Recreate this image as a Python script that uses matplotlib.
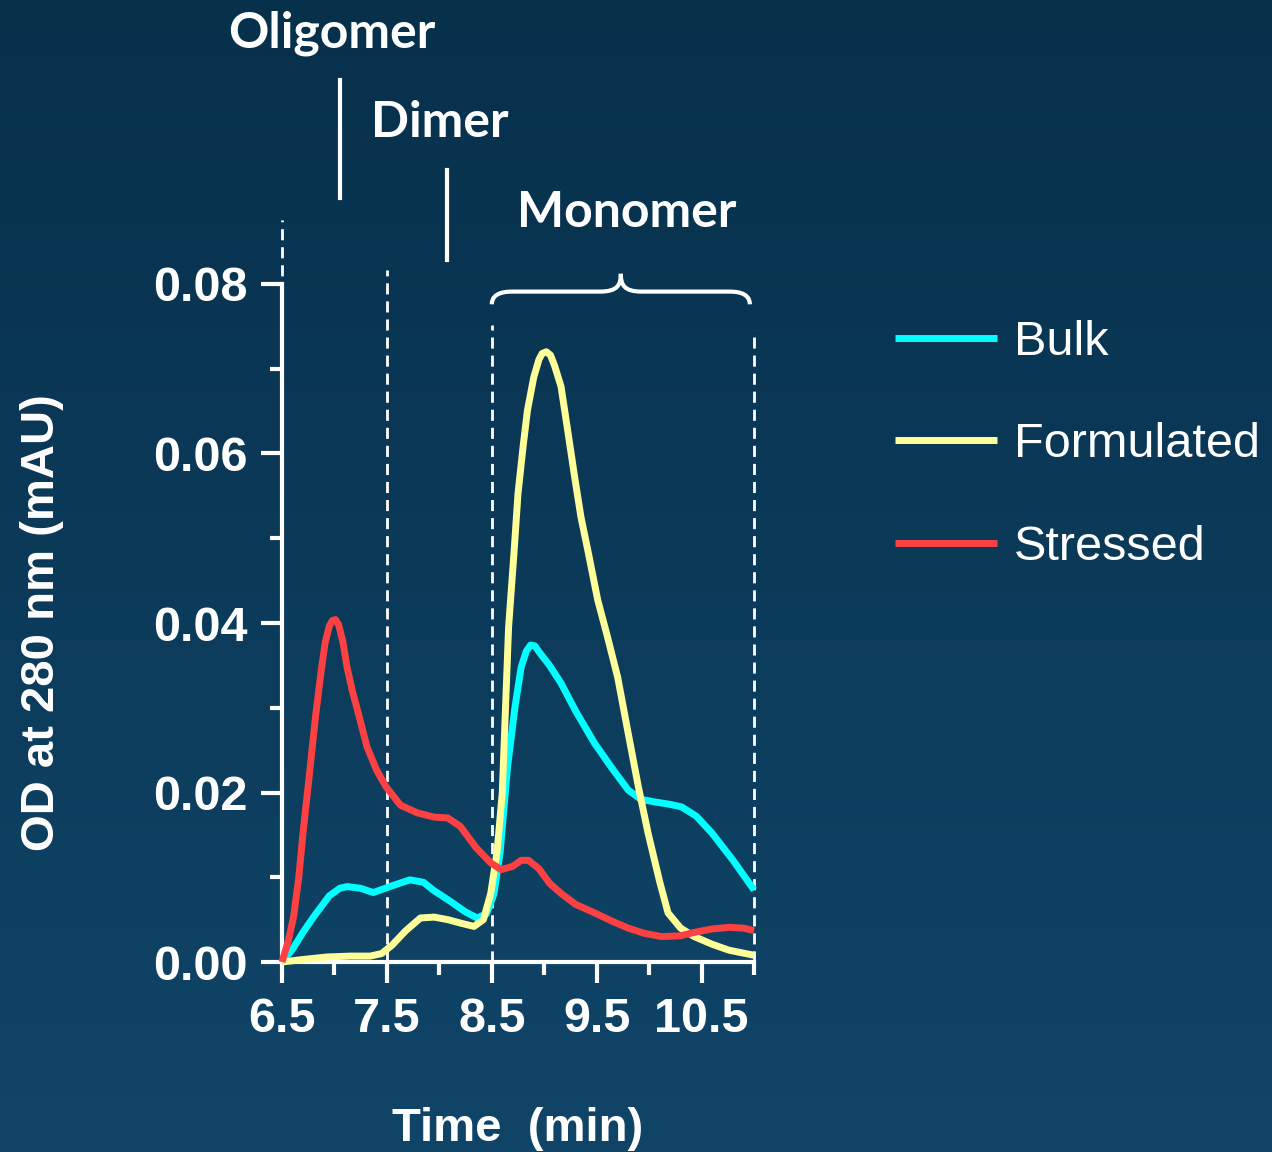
import numpy as np
import matplotlib
matplotlib.use("Agg")
import matplotlib.pyplot as plt
from matplotlib.path import Path
from matplotlib.patches import PathPatch

# retention time (min) / OD readings for each sample
bulk_t = [6.5, 6.6, 6.7, 6.8, 6.95, 7.05, 7.12, 7.25, 7.37, 7.55, 7.72, 7.85,
          7.94, 8.1, 8.25, 8.36, 8.45, 8.52, 8.58, 8.65, 8.72, 8.78, 8.83,
          8.87, 8.91, 8.95, 9.05, 9.16, 9.3, 9.48, 9.65, 9.8, 9.92, 10.05,
          10.2, 10.31, 10.45, 10.6, 10.8, 11.0]
bulk_od = [0.0, 0.0015, 0.0035, 0.0053, 0.0078, 0.0087, 0.0089, 0.0087,
           0.0082, 0.0090, 0.0097, 0.0094, 0.0085, 0.0072, 0.0059, 0.0052,
           0.0057, 0.0080, 0.0130, 0.0230, 0.0300, 0.0348, 0.0367, 0.0374,
           0.0373, 0.0366, 0.0350, 0.0329, 0.0296, 0.0258, 0.0228, 0.0203,
           0.0192, 0.0189, 0.0186, 0.0183, 0.0172, 0.0152, 0.0120, 0.0085]

form_t = [6.5, 6.7, 6.93, 7.15, 7.34, 7.45, 7.55, 7.68, 7.82, 7.95, 8.08, 8.2,
          8.33, 8.42, 8.49, 8.55, 8.6, 8.66, 8.71, 8.75, 8.8, 8.84, 8.9, 8.95,
          8.98, 9.02, 9.06, 9.1, 9.16, 9.22, 9.29, 9.35, 9.42, 9.51, 9.6, 9.7,
          9.8, 9.9, 9.99, 10.1, 10.18, 10.3, 10.43, 10.6, 10.76, 11.0]
form_od = [0.0, 0.0003, 0.0006, 0.0007, 0.0007, 0.0010, 0.0020, 0.0037, 0.0052,
           0.0053, 0.0050, 0.0046, 0.0042, 0.0050, 0.0081, 0.0130, 0.0200,
           0.0395, 0.0480, 0.0553, 0.0610, 0.0651, 0.0690, 0.0711, 0.0718,
           0.0720, 0.0716, 0.0703, 0.0679, 0.0630, 0.0572, 0.0525, 0.0483,
           0.0427, 0.0385, 0.0336, 0.0270, 0.0205, 0.0152, 0.0095, 0.0058,
           0.0040, 0.0030, 0.0021, 0.0014, 0.0008]

stress_t = [6.5, 6.56, 6.61, 6.66, 6.70, 6.76, 6.82, 6.87, 6.91, 6.95, 6.98,
            7.01, 7.04, 7.08, 7.12, 7.17, 7.22, 7.31, 7.4, 7.49, 7.63, 7.79,
            7.95, 8.08, 8.2, 8.35, 8.49, 8.59, 8.7, 8.78, 8.85, 8.95, 9.05,
            9.16, 9.3, 9.48, 9.65, 9.8, 9.95, 10.12, 10.3, 10.43, 10.6, 10.76,
            10.9, 11.0]
stress_od = [0.0, 0.0025, 0.0053, 0.0100, 0.0152, 0.0220, 0.0290, 0.0340,
             0.0376, 0.0396, 0.0403, 0.0404, 0.0398, 0.0378, 0.0348, 0.0320,
             0.0297, 0.0254, 0.0227, 0.0207, 0.0185, 0.0176, 0.0171, 0.0170,
             0.0160, 0.0135, 0.0117, 0.0109, 0.0113, 0.0120, 0.0120, 0.0110,
             0.0093, 0.0081, 0.0068, 0.0058, 0.0048, 0.0040, 0.0034, 0.0030,
             0.0031, 0.0035, 0.0039, 0.0041, 0.0040, 0.0037]

series = ["Bulk", "Formulated", "Stressed"]
colors = ["#00ffff", "#ffff99", "#fb4141"]

x_major = [6.5, 7.5, 8.5, 9.5, 10.5]
x_minor = [7.0, 8.0, 9.0, 10.0, 11.0]
y_major = [0.0, 0.02, 0.04, 0.06, 0.08]
y_minor = [0.01, 0.03, 0.05, 0.07]

# fraction boundaries (dashed) and labels
bounds = [6.5, 7.5, 8.5, 11.0]
bound_tops = [0.0876, 0.0817, 0.0752, 0.0746]

fig = plt.figure(figsize=(12.72, 11.52), dpi=100)

# background gradient
bg = fig.add_axes([0, 0, 1, 1], zorder=-10)
grad = np.linspace(0, 1, 256).reshape(-1, 1)
top = np.array([0x07, 0x30, 0x4b]) / 255
bot = np.array([0x10, 0x45, 0x68]) / 255
img = top + (bot - top) * grad[:, :, None]
bg.imshow(img, aspect="auto", extent=[0, 1, 0, 1])
bg.axis("off")

ax = fig.add_axes([0.2217, 0.1649, 0.3711, 0.5886])
ax.patch.set_alpha(0)

for t, od, lab, c in zip([bulk_t, form_t, stress_t],
                         [bulk_od, form_od, stress_od], series, colors):
    ax.plot(t, od, color=c, lw=5, label=lab, solid_joinstyle="round",
            solid_capstyle="butt", clip_on=False, zorder=3)

for b, tp in zip(bounds, bound_tops):
    ax.plot([b, b], [0, tp], color="white", lw=2, ls=(0, (4, 2.5)),
            clip_on=False, zorder=2)

ax.set_xlim(6.5, 11.0)
ax.set_ylim(0, 0.08)
for s in ["top", "right"]:
    ax.spines[s].set_visible(False)
for s in ["left", "bottom"]:
    ax.spines[s].set_color("white")
    ax.spines[s].set_linewidth(3)

ax.set_xticks(x_major)
ax.set_xticks(x_minor, minor=True)
ax.set_yticks(y_major)
ax.set_yticks(y_minor, minor=True)
ax.set_xticklabels([f"{v:g}" for v in x_major])
ax.set_yticklabels([f"{v:.2f}" for v in y_major])
ax.tick_params(which="major", length=15, width=3, color="white", pad=10,
               labelcolor="white", labelsize=35)
ax.tick_params(which="minor", length=9, width=3, color="white")
for lbl in ax.get_xticklabels() + ax.get_yticklabels():
    lbl.set_fontfamily("Liberation Sans")
    lbl.set_fontweight("bold")

ax.set_xlabel("Time  (min)", color="white", fontsize=34, fontweight="bold",
              family="Liberation Sans", labelpad=47)
ax.set_ylabel("OD at 280 nm (mAU)", color="white", fontsize=34,
              fontweight="bold", family="Liberation Sans", labelpad=64)

# fraction labels
lab_kw = dict(color="white", fontsize=36, fontweight="bold", family="Lato",
              ha="center", va="center", clip_on=False)
ax.text(6.97, 0.1096, "Oligomer", **lab_kw)
ax.text(8.0, 0.0990, "Dimer", **lab_kw)
ax.text(9.79, 0.0884, "Monomer", **lab_kw)
ax.plot([7.05, 7.05], [0.0901, 0.1041], color="white", lw=3, clip_on=False)
ax.plot([8.07, 8.07], [0.0828, 0.0935], color="white", lw=3, clip_on=False)

# brace over the monomer region
x0, x1, xm = 8.5, 10.96, 9.73
yb, yl, yp = 0.0776, 0.0791, 0.0812
verts = [(x0, yb), (x0, yl), (x0 + 0.15, yl), (x0 + 0.2, yl),
         (xm - 0.2, yl), (xm - 0.03, yl), (xm, yl + 0.0008), (xm, yp),
         (xm, yl + 0.0008), (xm + 0.03, yl), (xm + 0.2, yl),
         (x1 - 0.2, yl), (x1 - 0.15, yl), (x1, yl), (x1, yb)]
codes = [Path.MOVETO, Path.CURVE4, Path.CURVE4, Path.CURVE4,
         Path.LINETO, Path.CURVE4, Path.CURVE4, Path.CURVE4,
         Path.CURVE4, Path.CURVE4, Path.CURVE4,
         Path.LINETO, Path.CURVE4, Path.CURVE4, Path.CURVE4]
ax.add_patch(PathPatch(Path(verts, codes), fc="none", ec="white", lw=3,
                       clip_on=False))

leg = ax.legend(loc="upper left", bbox_to_anchor=(895 / 1272, 1 - 320 / 1152),
                bbox_transform=fig.transFigure, frameon=False,
                prop={"family": "Liberation Sans", "size": 35},
                handlelength=2.1, handletextpad=0.35, labelspacing=1.18,
                borderpad=0, borderaxespad=0)
for txt in leg.get_texts():
    txt.set_color("white")
for h in leg.get_lines():
    h.set_linewidth(5)

fig.savefig("out.png", dpi=100)
